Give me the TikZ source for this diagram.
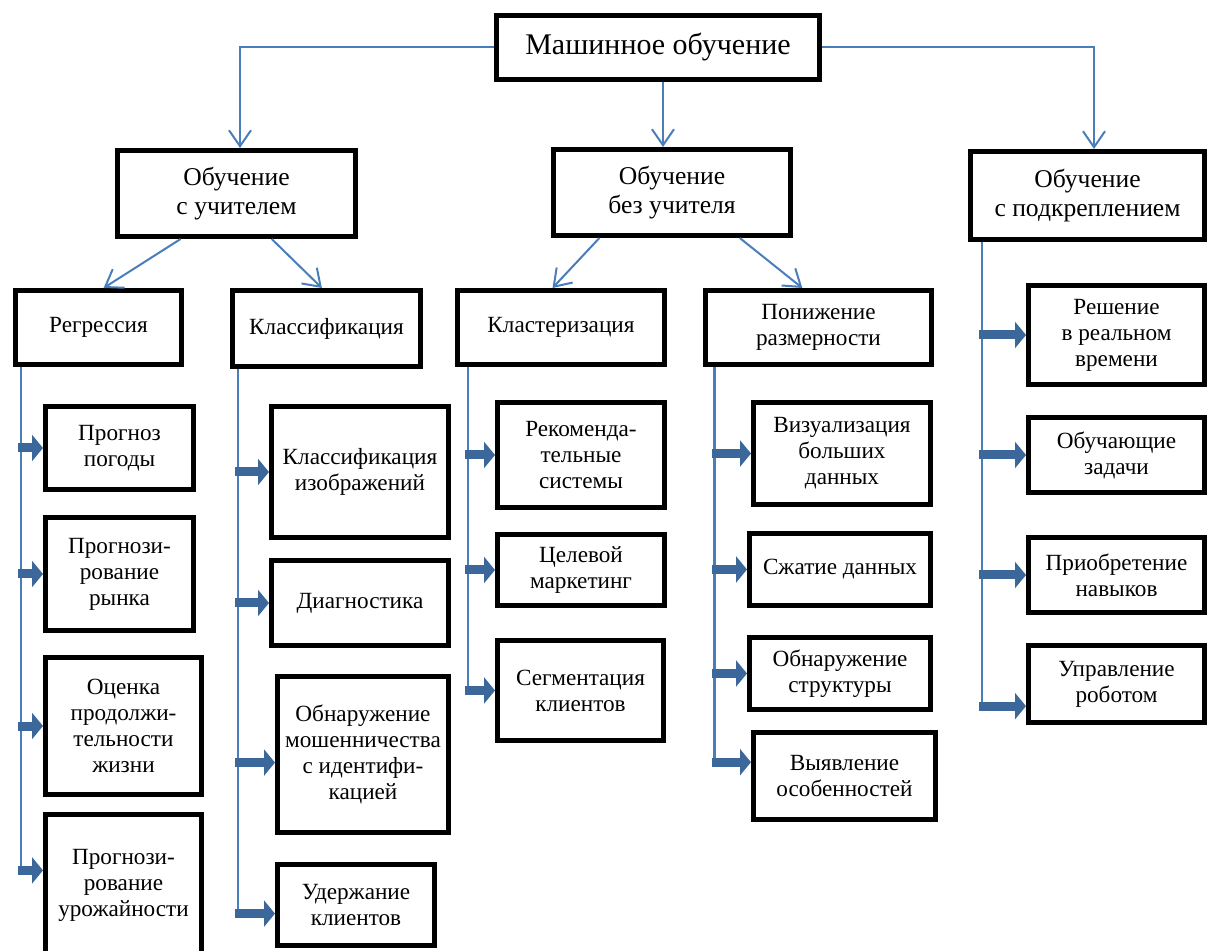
\documentclass[tikz,border=0pt]{standalone}
\usepackage{fontspec}
\setmainfont{Liberation Serif}
\usetikzlibrary{arrows.meta,calc}
\definecolor{thinblue}{HTML}{4A7EBB}
\definecolor{thickblue}{HTML}{3C679B}
\newcommand\mkbox[7]{%
 \pgfmathsetmacro\mybw{(#5-#3-5)*0.5}%
 \pgfmathsetmacro\mybh{(#6-#4-5)*0.5}%
 \node[#1, minimum width=\mybw pt, minimum height=\mybh pt] (#2) at ({(#3+#5)/2},{(#4+#6)/2}) {#7};}
\begin{document}
\begin{tikzpicture}[x=0.5pt,y=-0.5pt,
  boxst/.style={draw=black, line width=2.5pt, align=center, inner sep=1pt, fill=white, font=\fontsize{11.6}{13}\selectfont},
  hdrst/.style={boxst, font=\fontsize{12.8}{14.5}\selectfont},
  titlest/.style={boxst, font=\fontsize{15}{18}\selectfont},
  thinarrow/.style={draw=thinblue, line width=1pt, -{Straight Barb[length=8pt,width=11pt]}},
  thinline/.style={draw=thinblue, line width=1.1pt},
  fatarrow/.style={draw=thickblue, line width=4.5pt, -{Triangle[length=5.5pt,width=13pt]}},
]
\useasboundingbox (0,0) rectangle (1210,951);
% top
\mkbox{titlest}{top}{494}{13}{822}{82}{Машинное обучение}
% row 1
\mkbox{hdrst}{sup}{115}{148}{358}{239}{Обучение\\с учителем}
\mkbox{hdrst}{unsup}{551}{147}{793}{238}{Обучение\\без учителя}
\mkbox{hdrst}{rl}{968}{149}{1207}{242}{Обучение\\с подкреплением}
% row 2
\mkbox{boxst}{reg}{13}{288}{184}{367}{Регрессия}
\mkbox{boxst}{cls}{230}{288}{423}{369}{Классификация}
\mkbox{boxst}{clu}{455}{288}{667}{367}{Кластеризация}
\mkbox{boxst}{dim}{703}{288}{934}{367}{Понижение\\размерности}
% regression leaves
\mkbox{boxst}{r1}{43}{404}{196}{492}{Прогноз\\погоды}
\mkbox{boxst}{r2}{43}{515}{196}{633}{Прогнози-\\рование\\рынка}
\mkbox{boxst}{r3}{43}{655}{204}{797}{Оценка\\продолжи-\\тельности\\жизни}
\mkbox{boxst}{r4}{43}{812}{204}{958}{Прогнози-\\рование\\урожайности}
% classification leaves
\mkbox{boxst}{c1}{269}{404}{451}{540}{Классификация\\изображений}
\mkbox{boxst}{c2}{269}{558}{451}{648}{Диагностика}
\mkbox{boxst}{c3}{275}{674}{451}{835}{Обнаружение\\мошенничества\\с идентифи-\\кацией}
\mkbox{boxst}{c4}{275}{862}{437}{948}{Удержание\\клиентов}
% clustering leaves
\mkbox{boxst}{k1}{495}{400}{667}{510}{Рекоменда-\\тельные\\системы}
\mkbox{boxst}{k2}{495}{532}{667}{608}{Целевой\\маркетинг}
\mkbox{boxst}{k3}{495}{638}{666}{743}{Сегментация\\клиентов}
% dimensionality leaves
\mkbox{boxst}{d1}{751}{400}{933}{507}{Визуализация\\больших\\данных}
\mkbox{boxst}{d2}{747}{531}{933}{608}{Сжатие данных}
\mkbox{boxst}{d3}{747}{635}{933}{712}{Обнаружение\\структуры}
\mkbox{boxst}{d4}{751}{730}{938}{822}{Выявление\\особенностей}
% RL leaves
\mkbox{boxst}{q1}{1026}{283}{1207}{387}{Решение\\в реальном\\времени}
\mkbox{boxst}{q2}{1026}{415}{1207}{495}{Обучающие\\задачи}
\mkbox{boxst}{q3}{1026}{535}{1207}{615}{Приобретение\\навыков}
\mkbox{boxst}{q4}{1026}{643}{1207}{725}{Управление\\роботом}

% top connectors
\coordinate (lx) at (240,0);
\coordinate (mx) at (663,0);
\coordinate (rx) at (1094,0);
\draw[thinarrow] (top.west) -| (sup.north -| lx);
\draw[thinarrow] (top.east) -| (rl.north -| rx);
\draw[thinarrow] (top.south -| mx) -- (unsup.north -| mx);
% diagonal connectors
\draw[thinarrow] ($(sup.south west)!0.27!(sup.south east)$) -- ($(reg.north west)!0.53!(reg.north east)$);
\draw[thinarrow] ($(sup.south west)!0.645!(sup.south east)$) -- ($(cls.north west)!0.476!(cls.north east)$);
\draw[thinarrow] ($(unsup.south west)!0.2!(unsup.south east)$) -- ($(clu.north west)!0.46!(clu.north east)$);
\draw[thinarrow] ($(unsup.south west)!0.78!(unsup.south east)$) -- ($(dim.north west)!0.43!(dim.north east)$);

% spine coordinates
\coordinate (regL) at ($(reg.south west)!0.045!(reg.south east)$);
\coordinate (clsL) at ($(cls.south west)!0.04!(cls.south east)$);
\coordinate (cluL) at ($(clu.south west)!0.06!(clu.south east)$);
\coordinate (dimL) at ($(dim.south west)!0.05!(dim.south east)$);
\coordinate (rlL) at ($(rl.south west)!0.058!(rl.south east)$);
% special arrow targets
\coordinate (r4a) at ($(r4.north west)!0.4!(r4.south west)$);
\coordinate (c3a) at ($(c3.north west)!0.55!(c3.south west)$);
\coordinate (c4a) at ($(c4.north west)!0.6!(c4.south west)$);
\coordinate (d4a) at ($(d4.north west)!0.35!(d4.south west)$);
\coordinate (q4a) at ($(q4.north west)!0.77!(q4.south west)$);

% spines
\draw[thinline] (regL) -- (regL |- r4a);
\draw[thinline] (clsL) -- (clsL |- c4a);
\draw[thinline] (cluL) -- (cluL |- k3.west);
\draw[thinline] (dimL) -- (dimL |- d4a);
\draw[thinline] (rlL) -- (rlL |- q4a);

% fat arrows
\foreach \s/\t in {regL/r1.west, regL/r2.west, regL/r3.west, regL/r4a,
                   clsL/c1.west, clsL/c2.west, clsL/c3a, clsL/c4a,
                   cluL/k1.west, cluL/k2.west, cluL/k3.west,
                   dimL/d1.west, dimL/d2.west, dimL/d3.west, dimL/d4a,
                   rlL/q1.west, rlL/q2.west, rlL/q3.west, rlL/q4a}
  \draw[fatarrow] ($(\s |- \t)+(-3,0)$) -- (\t);
\end{tikzpicture}
\end{document}
